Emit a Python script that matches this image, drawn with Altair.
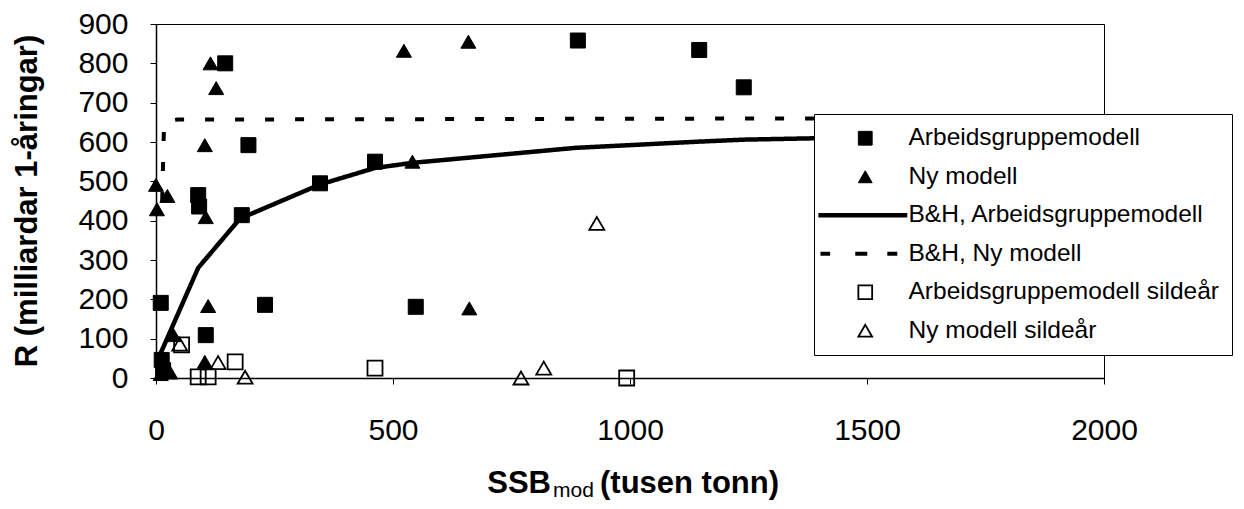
import altair as alt
import pandas as pd

SERIES = [
    "Arbeidsgruppemodell",
    "Ny modell",
    "B&H, Arbeidsgruppemodell",
    "B&H, Ny modell",
    "Arbeidsgruppemodell sildeår",
    "Ny modell sildeår",
]

# Filled squares: Arbeidsgruppemodell
AG_X = [146, 195, 89, 91, 181, 346, 462, 10, 230, 105, 548, 12, 15, 890, 1146, 1240]
AG_Y = [800, 592, 465, 436, 414, 495, 550, 191, 186, 109, 181, 46, 20, 858, 834, 739]

# Filled triangles: Ny modell
NY_X = [115, 127, 103, 0, 24, 2, 105, 523, 541, 110, 37, 103, 30, 10, 659, 661]
NY_Y = [800, 737, 592, 491, 463, 429, 409, 832, 550, 183, 109, 41, 14, 10, 855, 177]

# Open squares: Arbeidsgruppemodell sildeår
AGS_X = [54, 167, 89, 110, 462, 993]
AGS_Y = [84, 41, 3, 3, 25, 0]

# Open triangles: Ny modell sildeår
NYS_X = [50, 131, 188, 770, 818, 930]
NYS_Y = [86, 39, 2, 0, 25, 393]

# B&H curve, Arbeidsgruppemodell (solid)
BH_AG_X = [8, 89, 177, 233, 346, 462, 541, 884, 1146, 1240, 1500]
BH_AG_Y = [58, 280, 405, 434, 492, 534, 547, 585, 601, 606, 612]

# B&H curve, Ny modell (dashed)
BH_NY_X = [13, 17, 45, 1400]
BH_NY_Y = [450, 650, 657, 660]

X_TICKS = [0, 500, 1000, 1500, 2000]
Y_TICKS = [0, 100, 200, 300, 400, 500, 600, 700, 800, 900]
Y_TITLE = "R (milliardar 1-åringar)"
X_TITLE_MAIN = "SSB"
X_TITLE_SUB = "mod"
X_TITLE_REST = "(tusen tonn)"

FONT = "Liberation Sans"

pts = pd.concat([
    pd.DataFrame({"x": AG_X, "y": AG_Y, "s": SERIES[0]}),
    pd.DataFrame({"x": NY_X, "y": NY_Y, "s": SERIES[1]}),
    pd.DataFrame({"x": AGS_X, "y": AGS_Y, "s": SERIES[4]}),
    pd.DataFrame({"x": NYS_X, "y": NYS_Y, "s": SERIES[5]}),
], ignore_index=True)

lines = pd.concat([
    pd.DataFrame({"x": BH_AG_X, "y": BH_AG_Y, "s": SERIES[2]}),
    pd.DataFrame({"x": BH_NY_X, "y": BH_NY_Y, "s": SERIES[3]}),
], ignore_index=True)

legend = alt.Legend(
    title=None, orient="none", legendX=658, legendY=90,
    fillColor="white", strokeColor="black", padding=12,
    labelFont=FONT, labelFontSize=24.5, labelColor="black", labelLimit=600,
    symbolSize=190, symbolStrokeColor="black", symbolOffset=27,
    labelOffset=31, rowPadding=13.5, zindex=1,
)

shape_scale = alt.Scale(domain=SERIES, range=[
    "square", "triangle-up",
    "M-6.8,0H6.1",
    "M-6.5,0H-5.1M-1.45,0H0.3M3.2,0H4.65",
    "square", "triangle-up",
])
fill_scale = alt.Scale(domain=SERIES, range=[
    "black", "black", "transparent", "transparent", "transparent", "transparent"])
stroke_scale = alt.Scale(domain=SERIES, range=["black"] * 6)
sw_scale = alt.Scale(type="ordinal", domain=SERIES, range=[1, 1, 4.5, 4, 1.8, 1.8])

xs = alt.Scale(domain=[0, 2000], nice=False, zero=False)
ys = alt.Scale(domain=[0, 900], nice=False)

x_axis = alt.Axis(values=X_TICKS, format="d", title=None, grid=False, labelFont=FONT,
                  labelFontSize=30, labelColor="black", tickSize=6, labelPadding=31,
                  labelFlush=False, labelOverlap=False,
                  domainColor="black", tickColor="black", domainWidth=1.5)
y_axis = alt.Axis(values=Y_TICKS, format="d", title=Y_TITLE, grid=False, labelFont=FONT,
                  labelFontSize=30, labelColor="black", tickSize=6, labelPadding=22,
                  labelFlush=False, labelOverlap=False,
                  domainColor="black", tickColor="black", domainWidth=1.5,
                  titleFont=FONT, titleFontSize=31, titleFontWeight="bold",
                  titleColor="black", titleX=-129, titleY=176.5, titleBaseline="middle",
                  titleAngle=270)

line_layer = alt.Chart(lines).mark_line().encode(
    x=alt.X("x:Q", scale=xs, axis=x_axis),
    y=alt.Y("y:Q", scale=ys, axis=y_axis),
    strokeDash=alt.StrokeDash("s:N", scale=alt.Scale(domain=[SERIES[2], SERIES[3]],
                              range=[[1, 0], [9, 21]]), legend=None),
    stroke=alt.Stroke("s:N", scale=stroke_scale, legend=legend),
    strokeWidth=alt.StrokeWidth("s:N", scale=sw_scale, legend=legend),
)

point_layer = alt.Chart(pts).mark_point(size=225, opacity=1).encode(
    x=alt.X("x:Q", scale=xs, axis=x_axis),
    y=alt.Y("y:Q", scale=ys, axis=y_axis),
    shape=alt.Shape("s:N", scale=shape_scale, legend=legend),
    fill=alt.Fill("s:N", scale=fill_scale, legend=legend),
    stroke=alt.Stroke("s:N", scale=stroke_scale, legend=legend),
    strokeWidth=alt.StrokeWidth("s:N", scale=sw_scale, legend=legend),
)

t1 = alt.Chart(pd.DataFrame({"t": [X_TITLE_MAIN]})).mark_text(
    font=FONT, fontSize=31, fontWeight="bold", align="right", baseline="alphabetic",
    color="black").encode(text="t:N", x=alt.value(395), y=alt.value(469))
t2 = alt.Chart(pd.DataFrame({"t": [X_TITLE_SUB]})).mark_text(
    font=FONT, fontSize=21, align="left", baseline="alphabetic",
    color="black").encode(text="t:N", x=alt.value(397), y=alt.value(473))
t3 = alt.Chart(pd.DataFrame({"t": [X_TITLE_REST]})).mark_text(
    font=FONT, fontSize=31, fontWeight="bold", align="left", baseline="alphabetic",
    color="black").encode(text="t:N", x=alt.value(444), y=alt.value(469))

chart = alt.layer(line_layer, point_layer, t1, t2, t3).properties(
    width=948, height=354,
    autosize=alt.AutoSizeParams(type="none"),
    padding={"left": 148, "top": 16, "right": 132, "bottom": 123},
    background="white",
).configure_view(stroke="black", strokeWidth=1)

chart.save("out.html", embed_options={"renderer": "svg", "actions": False})
